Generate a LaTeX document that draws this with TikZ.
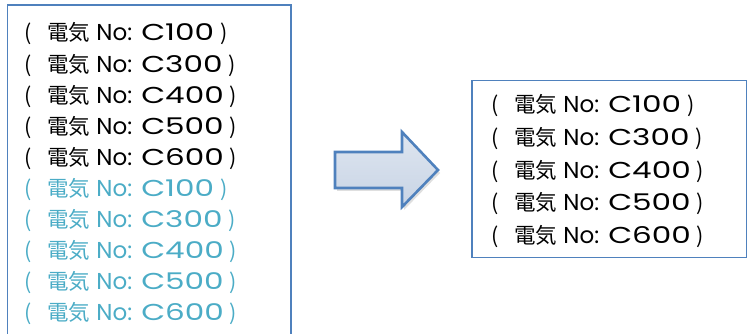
\documentclass[tikz,border=0pt]{standalone}
\usepackage{fontspec}
\newfontfamily\jpfont{Noto Sans CJK JP}
\newfontfamily\latinfont{Poppins}
\newfontfamily\widefont[FakeStretch=1.35]{Poppins}
\usepackage{tikz}
\usetikzlibrary{positioning}
\usetikzlibrary{shadows}
\definecolor{frameblue}{HTML}{4F81BD}
\definecolor{aquatext}{HTML}{4BACC6}
\definecolor{arrowfill}{HTML}{C8D4E5}
\newcommand{\elecno}[1]{(\hspace{16pt}電気\hspace{6pt}{\latinfont\fontsize{23}{26}\selectfont No:\hspace{9pt}}{\widefont\fontsize{23}{26}\selectfont C#1}\hspace{6pt})}

\begin{document}
\begin{tikzpicture}[
x=1pt, y=-1pt,
every node/.style={inner sep=0, text height=18pt, text depth=4pt, font=\jpfont\fontsize{21.5}{26}\selectfont},
frame/.style={draw=frameblue, line width=1.5pt},
blockarrow/.style={draw=frameblue, line width=2.6pt, line join=miter, top color=arrowfill!60, bottom color=arrowfill,
  drop shadow={opacity=0.25, shadow xshift=2pt, shadow yshift=-3pt}},
node distance=8.7pt
]
\useasboundingbox (0,0) rectangle (748,334);
% left list
\draw[frame] (7.5,5) rectangle (291,345);
\node[anchor=west] (l1) at (24,34) {\elecno{100}};
\node[below=of l1.south west, anchor=north west] (l2) {\elecno{300}};
\node[below=of l2.south west, anchor=north west] (l3) {\elecno{400}};
\node[below=of l3.south west, anchor=north west] (l4) {\elecno{500}};
\node[below=of l4.south west, anchor=north west] (l5) {\elecno{600}};
\node[below=of l5.south west, anchor=north west, aquatext] (l6) {\elecno{100}};
\node[below=of l6.south west, anchor=north west, aquatext] (l7) {\elecno{300}};
\node[below=of l7.south west, anchor=north west, aquatext] (l8) {\elecno{400}};
\node[below=of l8.south west, anchor=north west, aquatext] (l9) {\elecno{500}};
\node[below=of l9.south west, anchor=north west, aquatext] (l10) {\elecno{600}};
% arrow
\draw[blockarrow] (335,152) -- (402,152) -- (402,132) -- (438,170) -- (402,207) -- (402,188) -- (335,188) -- cycle;
% right list
\draw[frame] (472,80.5) rectangle (746.5,257.5);
\node[anchor=west] (r1) at (491,106) {\elecno{100}};
\node[below=10.2pt of r1.south west, anchor=north west] (r2) {\elecno{300}};
\node[below=10.2pt of r2.south west, anchor=north west] (r3) {\elecno{400}};
\node[below=10.2pt of r3.south west, anchor=north west] (r4) {\elecno{500}};
\node[below=10.2pt of r4.south west, anchor=north west] (r5) {\elecno{600}};
\end{tikzpicture}
\end{document}
